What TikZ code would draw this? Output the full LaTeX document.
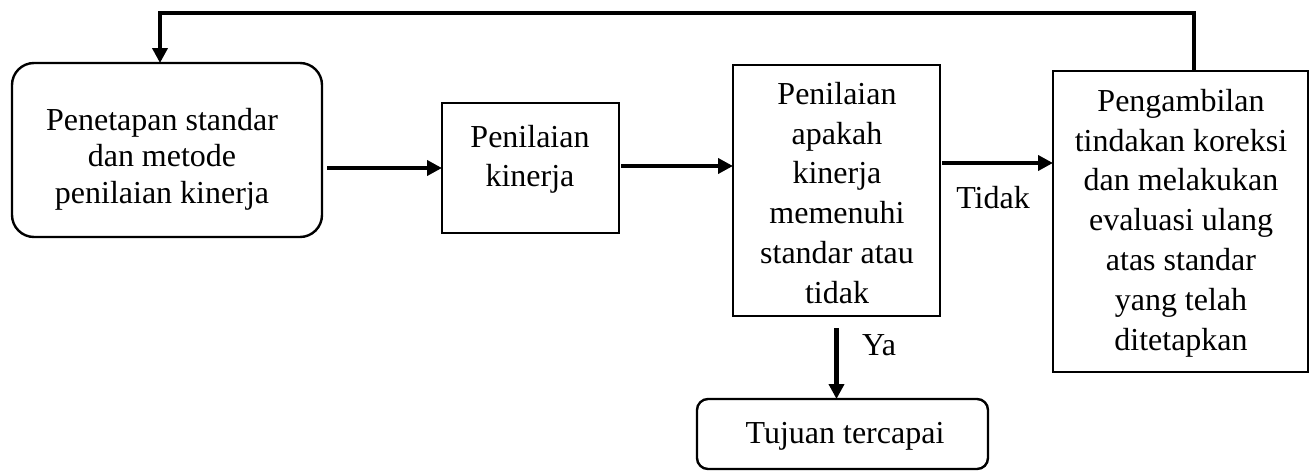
\documentclass[tikz,border=0pt]{standalone}
\usepackage{fontspec}
\setmainfont{Liberation Serif}
\usetikzlibrary{arrows.meta}
\tikzset{
  boxline/.style={draw=black, line width=2.4pt, inner sep=0pt, outer sep=0pt},
  sqbox/.style={boxline, rectangle},
  rbox/.style={boxline, rectangle, rounded corners=#1},
  lbl/.style={inner sep=0pt, outer sep=0pt, align=center, font=\fontsize{32}{39.8}\selectfont},
  conn/.style={line width=4.4pt, line join=miter, -{Triangle[length=15pt,width=15pt]}},
}
\begin{document}
\begin{tikzpicture}[x=1pt, y=-1pt]
\useasboundingbox (0,0) rectangle (1311,471);
% boxes
\node[rbox=22pt, minimum width=310pt, minimum height=174pt] (box1) at (167,150) {};
\node[sqbox, minimum width=177pt, minimum height=130pt] (box2) at (530.5,168) {};
\node[sqbox, minimum width=207pt, minimum height=251pt] (box3) at (836.5,190.5) {};
\node[sqbox, minimum width=255pt, minimum height=301pt] (box4) at (1180.5,221.5) {};
\node[rbox=11pt, minimum width=291pt, minimum height=70pt] (tuj) at (842.5,434) {};
% texts
\node[lbl, anchor=north, font=\fontsize{32}{36.5}\selectfont] (t1) at (162,108) {Penetapan standar\\dan metode\\penilaian kinerja};
\node[lbl, anchor=north] (t2) at (530,124.8) {Penilaian\\kinerja};
\node[lbl, anchor=north] (t3) at (837,82.1) {Penilaian\\apakah\\kinerja\\memenuhi\\standar atau\\tidak};
\node[lbl, anchor=north] (t4) at (1181,89.1) {Pengambilan\\tindakan koreksi\\dan melakukan\\evaluasi ulang\\atas standar\\yang telah\\ditetapkan};
\node[lbl, anchor=base] (t5) at (845,443) {Tujuan tercapai};
\node[lbl, anchor=base] (tidak) at (993,208) {Tidak};
\node[lbl, anchor=base west] (ya) at (862,355) {Ya};
% connectors
\coordinate (topy) at (0,13);
\draw[conn] ([xshift=5pt]box1.east |- box2.west) -- (box2.west);
\draw[conn] ([xshift=2pt,yshift=2pt]box2.east) -- ([yshift=2pt]box2.east -| box3.west);
\draw[conn] ([xshift=2pt,yshift=27.5pt]box3.east) -- ([yshift=27.5pt]box3.east -| box4.west);
\draw[conn] ([yshift=-12pt]box3.south) -- (box3.south |- tuj.north);
\draw[conn] ([xshift=13.5pt]box4.north) -- ([xshift=13.5pt]box4.north |- topy) -- ([xshift=-7pt]box1.north |- topy) -- ([xshift=-7pt]box1.north);
\end{tikzpicture}
\end{document}
